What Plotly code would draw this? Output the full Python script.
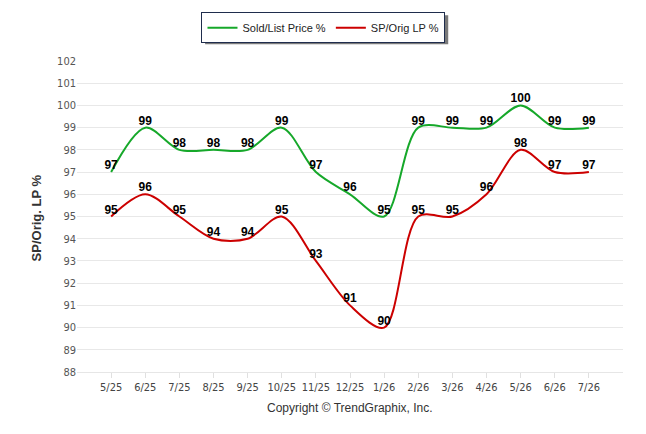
import plotly.graph_objects as go

months = ['5/25', '6/25', '7/25', '8/25', '9/25', '10/25', '11/25', '12/25',
          '1/26', '2/26', '3/26', '4/26', '5/26', '6/26', '7/26']
sold_list = [97, 99, 98, 98, 98, 99, 97, 96, 95, 99, 99, 99, 100, 99, 99]
sp_orig = [95, 96, 95, 94, 94, 95, 93, 91, 90, 95, 95, 96, 98, 97, 97]

fig = go.Figure()
fig.add_trace(go.Scatter(
    x=months, y=sold_list, name='Sold/List Price %',
    mode='lines+text', text=[str(v) for v in sold_list], textposition='top center',
    textfont=dict(family='Liberation Sans', size=12, color='black', weight='bold'),
    line=dict(color='#16a82a', width=2, shape='spline', smoothing=0.9),
    cliponaxis=False))
fig.add_trace(go.Scatter(
    x=months, y=sp_orig, name='SP/Orig LP %',
    mode='lines+text', text=[str(v) for v in sp_orig], textposition='top center',
    textfont=dict(family='Liberation Sans', size=12, color='black', weight='bold'),
    line=dict(color='#cc0000', width=2, shape='spline', smoothing=0.9),
    cliponaxis=False))

# page body has an 8px margin, so the figure is a bit smaller / shifted
fig.update_layout(
    width=638, height=426,
    margin=dict(l=69, r=23, t=53, b=62, autoexpand=False),
    plot_bgcolor='white', paper_bgcolor='white',
    font=dict(family='Liberation Sans', color='#333333'),
    showlegend=True,
    legend=dict(orientation='h', xref='container', x=0.4945, xanchor='center',
                y=1.1565, yanchor='top',
                bordercolor='#1f2d4d', borderwidth=1, bgcolor='white',
                font=dict(family='Liberation Sans', size=11, color='#222222'),
                itemwidth=30),
    xaxis=dict(type='category', range=[-1, 15], showgrid=False, automargin=False,
               showline=True, linecolor='#e6e6e6', ticks='outside', ticklen=5,
               tickcolor='#e0e0e0', tickfont=dict(family='DejaVu Sans Condensed', size=11, color='#444444')),
    yaxis=dict(range=[88, 102], dtick=1, showgrid=True, gridcolor='#e8e8e8', automargin=False,
               zeroline=False, showline=False, ticks='',
               tickfont=dict(family='DejaVu Sans Condensed', size=11, color='#555555')),
)
# legend drop shadow
fig.add_shape(type='rect', xref='paper', yref='paper', x0=0.2346, x1=0.6799,
              y0=1.0537, y1=1.1468, fillcolor='#7a7a7a', line_width=0, layer='above')
fig.add_annotation(text='SP/Orig. LP %', xref='paper', yref='paper', x=-0.0739, y=0.496,
                   xanchor='center', yanchor='middle', textangle=-90, showarrow=False,
                   font=dict(family='Liberation Sans', size=13, color='#333333', weight='bold'))
fig.add_annotation(text='Copyright © TrendGraphix, Inc.', xref='paper', yref='paper',
                   x=0.5, y=-0.1156, yanchor='middle', showarrow=False,
                   font=dict(family='Liberation Sans', size=12, color='#333333'))

fig.write_html('out.html')
